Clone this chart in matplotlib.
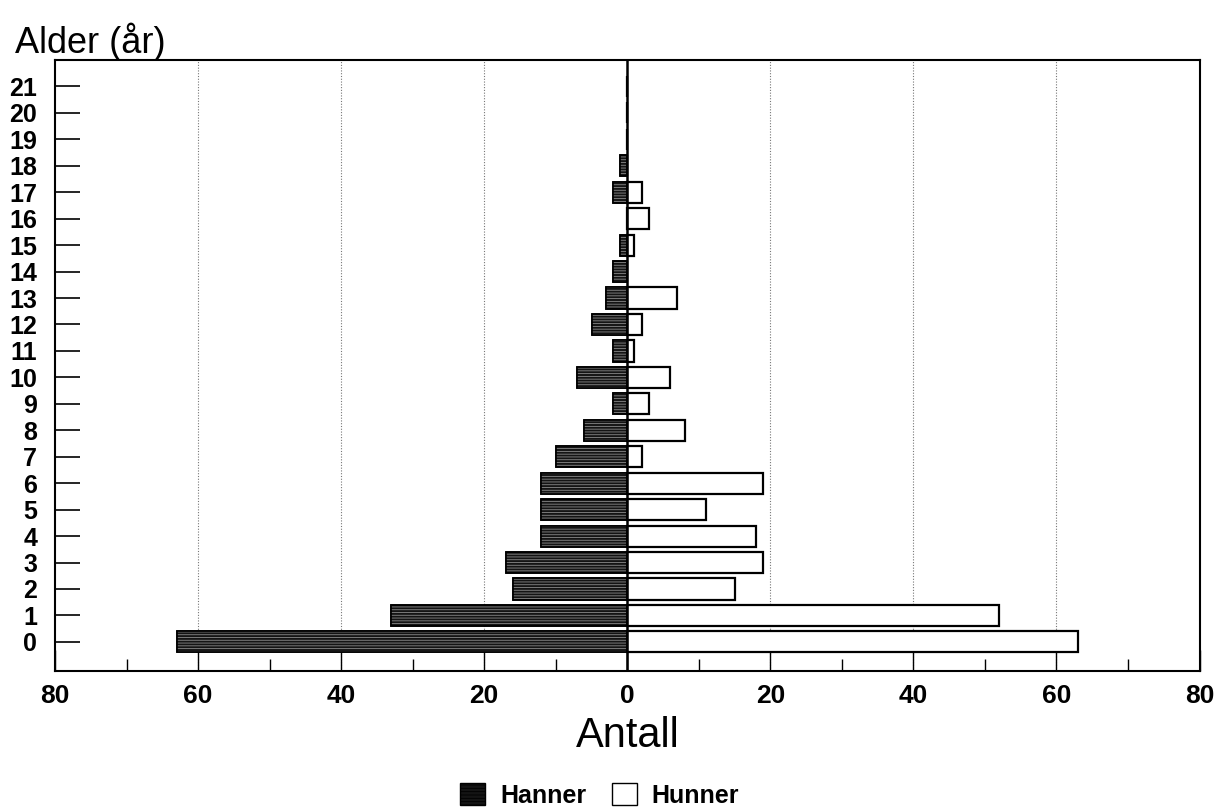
import matplotlib
matplotlib.use('Agg')
import matplotlib.pyplot as plt
import numpy as np
from matplotlib.patches import Patch

# Age distribution (antall per aldersgruppe)
ages = list(range(22))
hanner = [63, 33, 16, 17, 12, 12, 12, 10, 6, 2, 7, 2, 5, 3, 2, 1, 0, 2, 1, 0, 0, 0]
hunner = [63, 52, 15, 19, 18, 11, 19, 2, 8, 3, 6, 1, 2, 7, 0, 1, 3, 2, 0, 0, 0, 0]
xticks = [-80, -60, -40, -20, 0, 20, 40, 60, 80]

plt.rcParams['font.family'] = ['Liberation Sans', 'DejaVu Sans']
plt.rcParams['hatch.linewidth'] = 0.6

fig = plt.figure(figsize=(12.24, 8.1), dpi=100)
ax = fig.add_axes([0.045, 0.1716, 0.935, 0.7544])

y = np.array(ages)
males = -np.array(hanner)
females = np.array(hunner)

# grid and center line
for gx in [-60, -40, -20, 20, 40, 60]:
    ax.axvline(gx, color='#777777', linestyle=(0, (1, 1.5)), linewidth=0.8, zorder=0)
ax.axvline(0, color='black', linewidth=1.8, zorder=4)

# males: dark fill with light horizontal streaks
ax.barh(y, males, height=0.8, color='#141414', edgecolor='black', linewidth=1.2, zorder=2)
ax.barh(y, males, height=0.8, facecolor='none', edgecolor='#8a8a8a', hatch='------',
        linewidth=0, zorder=3)
ax.barh(y, males, height=0.8, facecolor='none', edgecolor='black', linewidth=1.2, zorder=3)
# females: white
ax.barh(y, females, height=0.8, color='white', edgecolor='black', linewidth=1.6, zorder=2)

ax.set_xlim(-80, 80)
ax.set_ylim(-1.1, 22)
ax.set_yticks(ages)
ax.set_yticklabels([str(a) for a in ages], fontsize=18, fontweight='bold')
ax.set_xticks(xticks)
ax.set_xticklabels([str(abs(v)) for v in xticks], fontsize=19, fontweight='bold')
ax.set_xticks(range(-70, 80, 20), minor=True)
ax.tick_params(axis='y', direction='in', length=18, width=1.2, pad=13)
ax.tick_params(axis='x', which='major', direction='in', length=15, width=1.0, pad=9)
ax.tick_params(axis='x', which='minor', direction='in', length=9, width=1.0)
for s in ax.spines.values():
    s.set_linewidth(1.5)

ax.set_xlabel('Antall', fontsize=30, labelpad=6)
fig.text(0.012, 0.948, 'Alder (år)', fontsize=26, ha='left', va='center')

handles = [Patch(facecolor='#141414', edgecolor='black', hatch='-----', label='Hanner'),
           Patch(facecolor='white', edgecolor='black', label='Hunner')]
fig.legend(handles=handles, loc='center', bbox_to_anchor=(0.49, 0.018), ncol=2,
           frameon=False, prop={'weight': 'bold', 'size': 18}, handlelength=1.0,
           handleheight=1.0, columnspacing=1.0, handletextpad=0.6)

fig.savefig('out.png', dpi=100)
